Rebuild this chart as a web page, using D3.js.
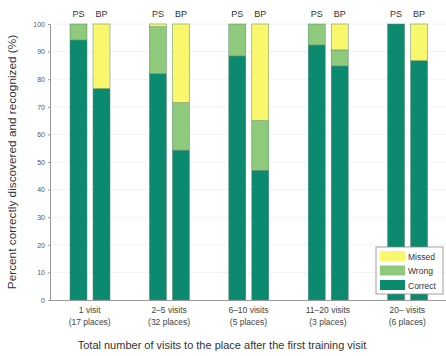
<!DOCTYPE html>
<html><head><meta charset="utf-8">
<script src="https://cdn.jsdelivr.net/npm/d3@7"></script>
<style>body{margin:0;background:#fff;} text{font-family:"Liberation Sans",Arial,sans-serif;}</style>
</head><body>
<svg id="c" width="446" height="356"></svg>
<script>
const groups = ["1 visit", "2\u20135 visits", "6\u201310 visits", "11\u201320 visits", "20\u2013 visits"];
const groupPlaces = ["(17 places)", "(32 places)", "(5 places)", "(3 places)", "(6 places)"];
const methods = ["PS", "BP"];
const correctPS = [94.2, 82, 88.4, 92.4, 100];
const wrongPS   = [5.8, 17, 11.6, 7.6, 0];
const missedPS  = [0, 1, 0, 0, 0];
const correctBP = [76.6, 54.3, 47, 84.8, 86.7];
const wrongBP   = [0, 17.2, 18, 5.8, 0];
const missedBP  = [23.4, 28.5, 35, 9.4, 13.3];
const yTicks = [0,10,20,30,40,50,60,70,80,90,100];
const layers = ["Correct", "Wrong", "Missed"];
const colors = {Correct:"#0b8a70", Wrong:"#8ec97c", Missed:"#f9f76c"};

const svg = d3.select("#c");
const y = d3.scaleLinear().domain([0,100]).range([300,24]);
const x0 = d3.scaleBand().domain(groups).range([50,447]);
const x1 = d3.scaleBand().domain(methods).range([-19.7, 20.3]).paddingInner(0.261);
const cx = g => x0(g) + x0.bandwidth()/2;

// gridlines
svg.append("g").selectAll("line").data(yTicks.slice(1)).join("line")
  .attr("x1",50).attr("x2",446).attr("y1",d=>y(d)).attr("y2",d=>y(d))
  .attr("stroke","#f2f2f2").attr("stroke-width",1);

const data = [];
groups.forEach((g,i)=>{
  const vals = {PS:[correctPS[i],wrongPS[i],missedPS[i]], BP:[correctBP[i],wrongBP[i],missedBP[i]]};
  methods.forEach(m=>{
    let acc=0;
    vals[m].forEach((v,k)=>{
      if(v>0) data.push({g,m,layer:layers[k],y0:acc,y1:acc+v});
      acc+=v;
    });
  });
});
svg.append("g").selectAll("rect").data(data).join("rect")
  .attr("x",d=>cx(d.g)+x1(d.m))
  .attr("width",x1.bandwidth())
  .attr("y",d=>y(d.y1)).attr("height",d=>y(d.y0)-y(d.y1))
  .attr("fill",d=>colors[d.layer]).attr("stroke","#5a8a70").attr("stroke-width",0.5);

// PS/BP labels
groups.forEach(g=>{
  methods.forEach(m=>{
    svg.append("text").attr("x",cx(g)+x1(m)+x1.bandwidth()/2).attr("y",17)
      .attr("text-anchor","middle").attr("font-size",9).attr("fill","#333").text(m);
  });
});

// y axis
const ya = svg.append("g").attr("transform","translate(50,0)")
  .call(d3.axisLeft(y).tickValues(yTicks).tickSize(2).tickPadding(3));
ya.select(".domain").attr("stroke","#999");
ya.selectAll(".tick line").attr("stroke","#999");
ya.selectAll("text").attr("font-size",7).attr("fill","#555").attr("font-family","Liberation Sans, Arial, sans-serif");

// x axis line
svg.append("line").attr("x1",50).attr("x2",446).attr("y1",300.5).attr("y2",300.5).attr("stroke","#999");

// category labels
groups.forEach((g,i)=>{
  svg.append("text").attr("x",cx(g)).attr("y",313).attr("text-anchor","middle").attr("font-size",8.5).attr("fill","#444").text(g);
  svg.append("text").attr("x",cx(g)).attr("y",325).attr("text-anchor","middle").attr("font-size",8.5).attr("fill","#444").text(groupPlaces[i]);
});

// axis titles
svg.append("text").attr("transform","translate(16,162) rotate(-90)").attr("text-anchor","middle")
  .attr("font-size",11.8).attr("fill","#333").text("Percent correctly discovered and recognized (%)");
svg.append("text").attr("x",222).attr("y",349).attr("text-anchor","middle")
  .attr("font-size",11).attr("fill","#333").text("Total number of visits to the place after the first training visit");

// legend
const lg = svg.append("g");
lg.append("rect").attr("x",376).attr("y",247).attr("width",67).attr("height",47)
  .attr("fill","#fff").attr("stroke","#888").attr("stroke-width",0.8);
["Missed","Wrong","Correct"].forEach((l,i)=>{
  const yy = 251 + i*14.5;
  lg.append("rect").attr("x",380).attr("y",yy).attr("width",25).attr("height",10).attr("fill",colors[l]);
  lg.append("text").attr("x",408).attr("y",yy+8.5).attr("font-size",8.5).attr("fill","#333").text(l);
});
</script>
</body></html>
